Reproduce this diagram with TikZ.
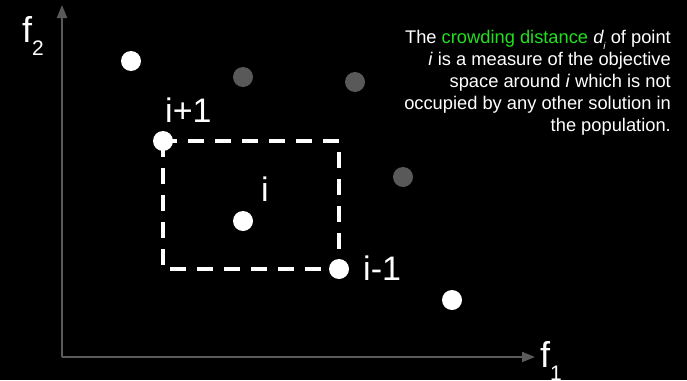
\documentclass[tikz,border=0pt]{standalone}
\usepackage{fontspec}
\setmainfont{Liberation Sans}
\usetikzlibrary{arrows.meta}
\definecolor{axisgray}{HTML}{5A5A5A}
\definecolor{dotgray}{HTML}{595959}
\definecolor{crowdgreen}{HTML}{22E01E}
\newcommand{\axsub}[1]{\raisebox{-.38em}{\fontsize{21}{21}\selectfont #1}}
\begin{document}
\begin{tikzpicture}[x=1pt, y=-1pt, inner sep=0pt,
    sol/.style={circle, fill=white, minimum size=20pt},
    dom/.style={circle, fill=dotgray, minimum size=20pt},
    axis/.style={draw=axisgray, line width=2pt, -{Triangle[length=13pt, width=10pt]}},
    lbl/.style={text=white, font=\fontsize{34}{34}\selectfont, anchor=base west}]
   \fill[black] (0,0) rectangle (687,380);
   \useasboundingbox (0,0) rectangle (687,380);
   \coordinate (O) at (62,357);
   \coordinate (ytop) at (62,5);
   \coordinate (xend) at (535,357);
   \draw[axis] (O) -- (ytop);
   \draw[axis] (O) -- (xend);
   \node[lbl, font=\fontsize{36}{36}\selectfont] (f2) at (22,42) {f\axsub{2}};
   \node[lbl, font=\fontsize{36}{36}\selectfont] (f1) at (540,367) {f\axsub{1}};
   % points of the front
   \node[dom] (g1) at (243,77) {};
   \node[dom] (g2) at (355,82) {};
   \node[dom] (g3) at (403,177) {};
   \node[sol] (p0) at (131,61) {};
   \node[sol] (ip1) at (163,141) {};
   \node[sol] (i) at (243,221) {};
   \node[sol] (im1) at (339,269) {};
   \node[sol] (p4) at (452,300) {};
   \draw[white, line width=3.5pt, dash pattern=on 16pt off 11pt] (ip1.center) rectangle (im1.center);
   \node[lbl] (lip1) at (165,122) {i+1};
   \node[lbl] (li) at (261,201) {i};
   \node[lbl] (lim1) at (363,280) {i-1};
   \node[text=white, align=right, anchor=north east, font=\fontsize{18.3}{22}\selectfont] (note) at (671,30)
      {The \textcolor{crowdgreen}{crowding distance} \textit{d\raisebox{-.35em}{\fontsize{10}{10}\selectfont i}} of point\\
       \textit{i} is a measure of the objective\\
       space around \textit{i} which is not\\
       occupied by any other solution in\\
       the population.};
\end{tikzpicture}
\end{document}
